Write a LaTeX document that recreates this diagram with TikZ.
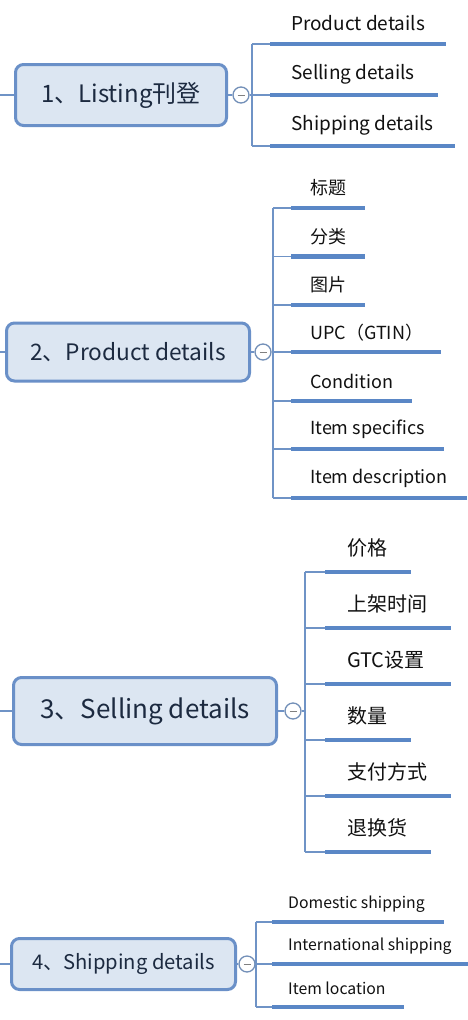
\documentclass[tikz,border=0pt]{standalone}
\usepackage{fontspec}
\setmainfont{Noto Sans CJK SC}
\definecolor{boxfill}{HTML}{DCE6F2}
\definecolor{boxline}{HTML}{6A90C8}
\definecolor{thinline}{HTML}{6F93C6}
\definecolor{thickline}{HTML}{5A87C6}
\definecolor{boxtext}{HTML}{1C2A40}
\definecolor{leaftext}{HTML}{111111}
\tikzset{
  topic/.style={draw=boxline, line width=3pt, fill=boxfill, rounded corners=8pt, text=boxtext, inner sep=0pt},
  knob/.style={circle, draw=thinline!80!gray, line width=1.3pt, fill=white, minimum size=16pt, inner sep=0pt},
  thin/.style={draw=thinline, line width=1.6pt},
  thick/.style={draw=thickline, line width=4.5pt},
  leaf/.style={anchor=west, text=leaftext, inner sep=0pt},
}
\newcommand{\knobminus}[1]{\draw[draw=gray, line width=1pt] ([xshift=-3.5pt]#1.center) -- ([xshift=3.5pt]#1.center);}
\begin{document}
\begin{tikzpicture}[x=1pt,y=-1pt]
\useasboundingbox (0,0) rectangle (468,1020);
\fill[white] (0,0) rectangle (468,1020);

% ---------- Section 1 ----------
\coordinate (l1) at (0,95);
\node[topic, minimum width=211pt, minimum height=61pt, font=\fontsize{24}{28}\selectfont] (t1) at (121,95) {1、Listing刊登};
\node[knob] (k1) at (241,95) {};
\coordinate (v1a) at (252,44);
\coordinate (v1b) at (252,146);
\coordinate (v1m) at (252,95);
\draw[thin] (l1) -- (t1.west);
\draw[thin] (t1.east) -- (k1.west);
\draw[thin] (k1.east) -- (v1m);
\draw[thin] (v1a) -- (v1b);
\knobminus{k1}
\coordinate (a1s) at (270,44); \coordinate (a1e) at (446,44);
\coordinate (b1s) at (270,95); \coordinate (b1e) at (438,95);
\coordinate (c1s) at (270,146); \coordinate (c1e) at (455,146);
\draw[thin] (v1a) -- (a1s); \draw[thin] (v1m) -- (b1s); \draw[thin] (v1b) -- (c1s);
\draw[thick] (a1s) -- (a1e); \draw[thick] (b1s) -- (b1e); \draw[thick] (c1s) -- (c1e);
\begin{scope}[every node/.style={leaf, font=\fontsize{19}{23}\selectfont}]
\node (n1a) at (291,23) {Product details};
\node (n1b) at (291,74) {Selling details};
\node (n1c) at (291,125) {Shipping details};
\end{scope}

% ---------- Section 2 ----------
\coordinate (l2) at (0,352);
\node[topic, minimum width=243pt, minimum height=58pt, font=\fontsize{22.7}{27}\selectfont] (t2) at (128,352) {2、Product details};
\node[knob] (k2) at (263,352) {};
\coordinate (v2a) at (273,208);
\coordinate (v2b) at (273,498);
\coordinate (v2m) at (273,352);
\draw[thin] (l2) -- (t2.west);
\draw[thin] (t2.east) -- (k2.west);
\draw[thin] (k2.east) -- (v2m);
\draw[thin] (v2a) -- (v2b);
\knobminus{k2}
\coordinate (p1s) at (291,208); \coordinate (p1e) at (365,208);
\coordinate (p2s) at (291,256.5); \coordinate (p2e) at (365,256.5);
\coordinate (p3s) at (291,305); \coordinate (p3e) at (365,305);
\coordinate (p4s) at (291,352); \coordinate (p4e) at (441,352);
\coordinate (p5s) at (291,401); \coordinate (p5e) at (412,401);
\coordinate (p6s) at (291,449); \coordinate (p6e) at (444,449);
\coordinate (p7s) at (291,498); \coordinate (p7e) at (467,498);
\coordinate (v2c) at (273,256.5); \coordinate (v2d) at (273,305);
\coordinate (v2e) at (273,401); \coordinate (v2f) at (273,449);
\draw[thin] (v2a) -- (p1s); \draw[thin] (v2c) -- (p2s); \draw[thin] (v2d) -- (p3s);
\draw[thin] (v2m) -- (p4s); \draw[thin] (v2e) -- (p5s); \draw[thin] (v2f) -- (p6s);
\draw[thin] (v2b) -- (p7s);
\draw[thick] (p1s) -- (p1e); \draw[thick] (p2s) -- (p2e); \draw[thick] (p3s) -- (p3e);
\draw[thick] (p4s) -- (p4e); \draw[thick] (p5s) -- (p5e); \draw[thick] (p6s) -- (p6e);
\draw[thick] (p7s) -- (p7e);
\begin{scope}[every node/.style={leaf, font=\fontsize{18}{22}\selectfont}]
\node (n2a) at (310,188) {标题};
\node (n2b) at (310,236.5) {分类};
\node (n2c) at (310,285) {图片};
\node (n2d) at (310,333) {UPC（GTIN）};
\node (n2e) at (310,381) {Condition};
\node (n2f) at (310,429) {Item specifics};
\node (n2g) at (310,478) {Item description};
\end{scope}

% ---------- Section 3 ----------
\coordinate (l3) at (0,711);
\node[topic, minimum width=263pt, minimum height=67pt, font=\fontsize{26}{30}\selectfont] (t3) at (145,711) {3、Selling details};
\node[knob] (k3) at (293,711) {};
\coordinate (v3a) at (305,572);
\coordinate (v3b) at (305,852);
\coordinate (v3m) at (305,711);
\draw[thin] (l3) -- (t3.west);
\draw[thin] (t3.east) -- (k3.west);
\draw[thin] (k3.east) -- (v3m);
\draw[thin] (v3a) -- (v3b);
\knobminus{k3}
\coordinate (v3c) at (305,628); \coordinate (v3d) at (305,684);
\coordinate (v3e) at (305,740); \coordinate (v3f) at (305,796);
\coordinate (q1s) at (325,572); \coordinate (q1e) at (411,572);
\coordinate (q2s) at (325,628); \coordinate (q2e) at (451,628);
\coordinate (q3s) at (325,684); \coordinate (q3e) at (451,684);
\coordinate (q4s) at (325,740); \coordinate (q4e) at (411,740);
\coordinate (q5s) at (325,796); \coordinate (q5e) at (451,796);
\coordinate (q6s) at (325,852); \coordinate (q6e) at (431,852);
\draw[thin] (v3a) -- (q1s); \draw[thin] (v3c) -- (q2s); \draw[thin] (v3d) -- (q3s);
\draw[thin] (v3e) -- (q4s); \draw[thin] (v3f) -- (q5s); \draw[thin] (v3b) -- (q6s);
\draw[thick] (q1s) -- (q1e); \draw[thick] (q2s) -- (q2e); \draw[thick] (q3s) -- (q3e);
\draw[thick] (q4s) -- (q4e); \draw[thick] (q5s) -- (q5e); \draw[thick] (q6s) -- (q6e);
\begin{scope}[every node/.style={leaf, font=\fontsize{20}{24}\selectfont}]
\node (n3a) at (347,548) {价格};
\node (n3b) at (347,604) {上架时间};
\node (n3c) at (347,660) {GTC设置};
\node (n3d) at (347,716) {数量};
\node (n3e) at (347,772) {支付方式};
\node (n3f) at (347,828) {退换货};
\end{scope}

% ---------- Section 4 ----------
\coordinate (l4) at (0,964);
\node[topic, minimum width=224pt, minimum height=51pt, font=\fontsize{20.2}{24}\selectfont] (t4) at (123.5,964) {4、Shipping details};
\node[knob] (k4) at (247,964) {};
\coordinate (v4a) at (256,922);
\coordinate (v4b) at (256,1007);
\coordinate (v4m) at (256,964);
\draw[thin] (l4) -- (t4.west);
\draw[thin] (t4.east) -- (k4.west);
\draw[thin] (k4.east) -- (v4m);
\draw[thin] (v4a) -- (v4b);
\knobminus{k4}
\coordinate (r1s) at (272,922); \coordinate (r1e) at (444,922);
\coordinate (r2s) at (272,964); \coordinate (r2e) at (468,964);
\coordinate (r3s) at (272,1007); \coordinate (r3e) at (404,1007);
\draw[thin] (v4a) -- (r1s); \draw[thin] (v4m) -- (r2s); \draw[thin] (v4b) -- (r3s);
\draw[thick] (r1s) -- (r1e); \draw[thick] (r2s) -- (r2e); \draw[thick] (r3s) -- (r3e);
\begin{scope}[every node/.style={leaf, font=\fontsize{15.8}{19}\selectfont}]
\node (n4a) at (288,904) {Domestic shipping};
\node (n4b) at (288,946) {International shipping};
\node (n4c) at (288,988) {Item location};
\end{scope}
\end{tikzpicture}
\end{document}
